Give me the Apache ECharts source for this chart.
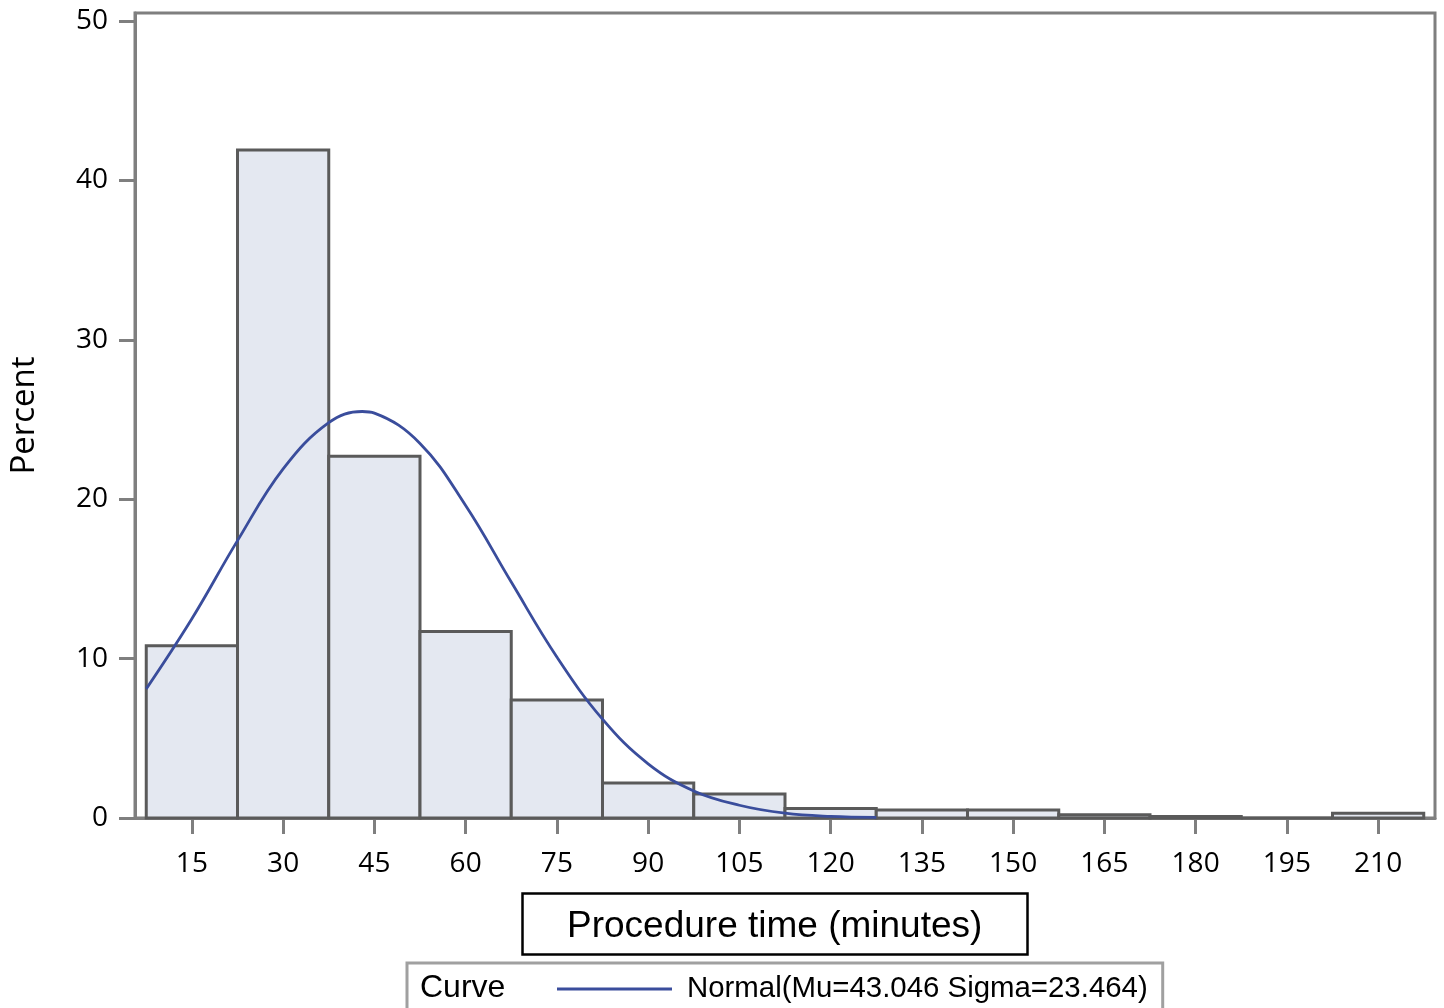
<!DOCTYPE html>
<html>
<head>
<meta charset="utf-8">
<script src="https://cdn.jsdelivr.net/npm/echarts@6/dist/echarts.min.js"></script>
<style>
  html, body { margin: 0; padding: 0; background: #fff; }
  #chart { width: 1444px; height: 1008px; }
</style>
</head>
<body>
<div id="chart"></div>
<script>
// ---- data ----
const binMidpoints = [15, 30, 45, 60, 75, 90, 105, 120, 135, 150, 165, 180, 195, 210];
const binPercent   = [10.8, 41.9, 22.7, 11.7, 7.4, 2.2, 1.5, 0.6, 0.5, 0.5, 0.2, 0.1, 0, 0.3];
const binWidth = 15;

const curveX = [7.5, 15, 22.5, 30, 37.5, 43, 45, 52.5, 60, 67.5, 75, 82.5, 90, 97.5, 105, 112.5, 120, 127.5];
const curveY = [8.1, 12.5, 17.4, 21.9, 24.8, 25.5, 25.4, 23.5, 19.6, 14.8, 10.1, 6.2, 3.4, 1.7, 0.8, 0.3, 0.1, 0.04];

const xTicks = [15, 30, 45, 60, 75, 90, 105, 120, 135, 150, 165, 180, 195, 210];
const yTicks = [0, 10, 20, 30, 40, 50];

const xTitle = 'Procedure time (minutes)';
const yTitle = 'Percent';
const curveName = 'Normal(Mu=43.046 Sigma=23.464)';
const legendTitle = 'Curve';

// ---- chart ----
const chart = echarts.init(document.getElementById('chart'), null, { renderer: 'canvas' });

const axisGray = '#7f7f7f';
const tickFont = { fontFamily: 'Open Sans', fontSize: 28, color: '#000' };

const barData = binMidpoints.map((m, i) => [m, binPercent[i]]);
const curveData = curveX.map((x, i) => [x, curveY[i]]);

const option = {
  animation: false,
  backgroundColor: '#ffffff',
  grid: {
    left: 135, right: 9, top: 13, bottom: 190,
    outerBoundsMode: 'none',
    containLabel: false,
    show: true, borderColor: axisGray, borderWidth: 3, backgroundColor: 'transparent'
  },
  title: {
    text: xTitle,
    left: 522, top: 893,
    padding: [14, 45, 8, 45],
    borderColor: '#000', borderWidth: 2.5,
    textStyle: { fontFamily: 'Liberation Sans', fontSize: 37, fontWeight: 'normal', color: '#000', lineHeight: 40 }
  },
  legend: {
    left: 407, top: 963,
    padding: [9, 15, 20, 150],
    borderColor: '#a0a0a0', borderWidth: 3,
    itemWidth: 115, itemHeight: 3,
    data: [{ name: curveName, icon: 'rect' }],
    textStyle: { fontFamily: 'Liberation Sans', fontSize: 29.4, color: '#000', lineHeight: 34, padding: [0, 0, 0, 10] }
  },
  graphic: [{
    type: 'text', left: 420, top: 972,
    style: { text: legendTitle, font: '32px "Liberation Sans"', fill: '#000' }
  }],
  xAxis: {
    type: 'value', min: 5.65, max: 219.35,
    axisLine: { show: true, onZero: false, lineStyle: { color: axisGray, width: 3 } },
    axisTick: { show: true, length: 16, lineStyle: { color: axisGray, width: 3 }, customValues: xTicks },
    axisLabel: { ...tickFont, margin: 32, customValues: xTicks },
    splitLine: { show: false }
  },
  yAxis: {
    type: 'value', min: 0, max: 50.5,
    name: yTitle, nameLocation: 'middle', nameGap: 94, nameRotate: 90,
    nameTextStyle: { fontFamily: 'Open Sans', fontSize: 33, color: '#000' },
    axisLine: { show: true, lineStyle: { color: axisGray, width: 3 } },
    axisTick: { show: true, length: 16, lineStyle: { color: axisGray, width: 3 }, customValues: yTicks },
    axisLabel: { ...tickFont, margin: 27, customValues: yTicks },
    splitLine: { show: false }
  },
  series: [
    {
      type: 'custom',
      name: 'bins',
      data: barData,
      z: 2,
      renderItem: function (params, api) {
        const m = api.value(0), v = api.value(1);
        const p0 = api.coord([m - binWidth / 2, v]);
        const p1 = api.coord([m + binWidth / 2, 0]);
        return {
          type: 'rect',
          shape: { x: p0[0], y: p0[1], width: p1[0] - p0[0], height: p1[1] - p0[1] },
          style: { fill: '#e4e8f1', stroke: '#5a5a5a', lineWidth: 3 }
        };
      }
    },
    {
      type: 'line',
      name: curveName,
      data: curveData,
      smooth: 0.4,
      showSymbol: false,
      symbol: 'none',
      z: 5,
      color: '#3a4d9c',
      lineStyle: { color: '#3a4d9c', width: 2.8 }
    }
  ]
};

chart.setOption(option);
</script>
</body>
</html>
